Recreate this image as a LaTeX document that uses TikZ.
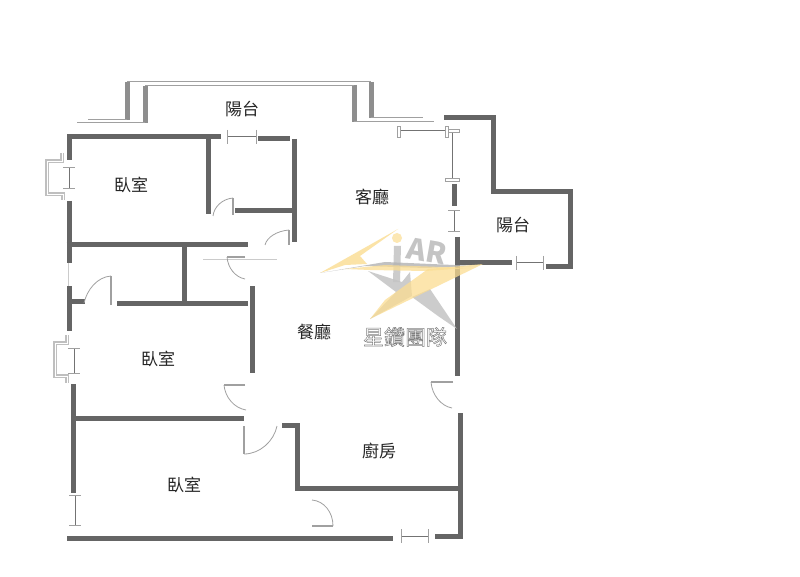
\documentclass[tikz,border=0pt]{standalone}
\usepackage{fontspec}
\setmainfont{Noto Sans CJK TC}
\usetikzlibrary{positioning}
\definecolor{wallgrey}{HTML}{656565}
\definecolor{balcgrey}{HTML}{8E8E8E}
\definecolor{thingrey}{HTML}{A0A0A0}
\definecolor{logoyellow}{HTML}{FBDD92}
\definecolor{logogrey}{HTML}{C4C4C4}
\tikzset{
  wall/.style = {draw=wallgrey, line width=5pt},
  balcwall/.style = {draw=balcgrey, line width=5pt},
  thinline/.style = {draw=thingrey, line width=1pt},
  paleline/.style = {draw=thingrey!55, line width=0.7pt},
  door/.style = {draw=thingrey, line width=0.8pt},
  doorleaf/.style = {draw=thingrey, line width=1.6pt},
  winline/.style = {draw=black!55, line width=1pt},
  doubleline/.style = {draw=black!25, line width=1.9pt, double=white, double distance=0.6pt},
  room/.style = {text=black!85, font=\fontsize{17}{18}\selectfont, inner sep=0pt},
}
% window with end ticks
\newcommand{\winh}[3]{%
  \draw [winline] (#1,#3) -- (#2,#3);
  \draw [thinline] (#1,#3-7) -- (#1,#3+7);
  \draw [thinline] (#2,#3-7) -- (#2,#3+7);
}
\newcommand{\winv}[3]{%
  \draw [winline] (#3,#1) -- (#3,#2);
  \draw [thinline] (#3-6,#1) -- (#3+6,#1);
  \draw [thinline] (#3-6,#2) -- (#3+6,#2);
}
\begin{document}
\begin{tikzpicture}[x=1pt, y=-1pt]
  \useasboundingbox [fill=white] (0,0) rectangle (800,577);
  % balcony top
  \draw [balcwall] (127,82) -- (127,120);
  \draw [balcwall] (145,86) -- (145,123);
  \draw [balcwall] (354,85) -- (354,122);
  \draw [balcwall] (371,82) -- (371,118);
  \draw [thinline] (88,120) -- (127,120);
  \draw [thinline] (77,123) -- (145,123);
  \draw [thinline] (127,82) -- (371,82);
  \draw [thinline] (145,86) -- (354,86);
  \draw [thinline] (371,118) -- (423,118);
  \draw [thinline] (354,122) -- (434,122);
  % bedroom one and closet
  \draw [wall] (69,160) -- (69,136.5) -- (221,136.5);
  \draw [wall] (69,201) -- (69,263);
  \draw [wall] (208,136.5) -- (208,214);
  \draw [wall] (235,211) -- (294,211);
  \draw [wall] (258,139) -- (290,139);
  \draw [wall] (294,139) -- (294,242);
  \draw [wall] (66.5,245) -- (248,245);
  \draw [wall] (184.5,245) -- (184.5,303);
  \draw [wall] (117,303) -- (248,303);
  \draw [wall] (252,286) -- (252,373);
  % bedroom two
  \draw [wall] (69,286) -- (69,331);
  \draw [wall] (69,301) -- (85,301);
  \draw [wall] (73,384) -- (73,493);
  \draw [wall] (73,418) -- (244,418);
  % bedroom three and kitchen
  \draw [wall] (67,538) -- (393,538);
  \draw [wall] (282,425) -- (297,425) -- (297,488) -- (458,488);
  \draw [wall] (460,413) -- (460,538);
  \draw [wall] (435,536) -- (462.5,536);
  % living room and right balcony
  \draw [wall] (444,117.5) -- (493,117.5) -- (493,192) -- (570,192) -- (570,267) -- (546,267);
  \draw [wall] (454,184) -- (454,206);
  \draw [wall] (457,237) -- (457,376);
  \draw [wall] (457,263) -- (512,263);
  % windows
  \winh{227}{256}{137}
  \winh{516}{543}{263}
  \winh{401}{428}{536}
  \winv{168}{189}{69}
  \winv{211}{232}{454}
  \winv{495}{525}{75}
  \winv{348}{373}{74}
  \draw [paleline] (68,263) -- (68,286);
  \draw [paleline] (203,259) -- (277,259);
  % sliding door
  \draw [winline] (399,131) -- (447,131);
  \draw [winline] (452,131) -- (452,180);
  \draw [door, fill=white] (397.5,126) rectangle (400.5,137);
  \draw [door, fill=white] (445,126) rectangle (448,137);
  \draw [door, fill=white] (448,129.5) rectangle (459,132.5);
  \draw [door, fill=white] (445.5,178) rectangle (459,181.5);
  % bay windows
  \draw [doubleline] (62,153) -- (62,161) -- (47,161) -- (47,194) -- (63,194) -- (63,200);
  \draw [doubleline] (67,335) -- (67,343) -- (55,343) -- (55,376) -- (67,376) -- (67,383);
  % doors
  \draw [door] (233,198) .. controls (222,199) and (214,207) .. (213,216);
  \draw [doorleaf] (233,215) -- (233,198);
  \draw [door] (289,230) .. controls (277,231) and (267,237) .. (265,245);
  \draw [doorleaf] (289,245) -- (289,230);
  \draw [door] (111,276) .. controls (97,277) and (87,290) .. (84,303);
  \draw [doorleaf] (111,305) -- (111,276);
  \draw [door] (227,257) .. controls (228,268) and (235,277) .. (245,279);
  \draw [doorleaf] (245,257) -- (227,257);
  \draw [door] (224,385) .. controls (225,397) and (234,408) .. (246,410);
  \draw [doorleaf] (245,385) -- (224,385);
  \draw [door] (244,454) .. controls (260,454) and (274,441) .. (277,426);
  \draw [doorleaf] (244,426) -- (244,454);
  \draw [door] (431,382) .. controls (432,395) and (441,406) .. (452,408);
  \draw [doorleaf] (453,382) -- (431,382);
  \draw [door] (333,526) .. controls (333,512) and (324,501) .. (312,500);
  \draw [doorleaf] (312,526) -- (333,526);
  % watermark
  \node (far) [text=logogrey, rotate=-10, font=\fontsize{29}{30}\selectfont\bfseries\itshape, inner sep=0pt] at (427,251) {AR};
  \fill [logogrey, fill opacity=0.85] (394,246) -- (401,246) -- (400,282) -- (393,282) -- cycle;
  \fill [logogrey, fill opacity=0.85] (368,271) -- (402,282) -- (410,272) -- (412,296) -- (370,319) -- (396,292) -- cycle;
  \fill [logogrey, fill opacity=0.85] (412,297) -- (430,289) -- (457,329) -- (438,316) -- cycle;
  \fill [logoyellow, fill opacity=0.7] (397,238) circle (5);
  \fill [logoyellow, fill opacity=0.8] (398,229) -- (320,273) -- (345,265) -- (367,264) -- (360,256) -- cycle;
  \fill [black!30, fill opacity=0.8] (320,273) -- (385,262) -- (477,266) -- (425,268) -- (365,266) -- cycle;
  \fill [logoyellow, fill opacity=0.75] (345,269) -- (385,265) -- (470,268) -- (425,271) -- (370,270) -- cycle;
  \fill [logoyellow, fill opacity=0.75] (483,264) -- (370,319) -- (385,300) -- (428,269) -- cycle;
  \node (logotext) [text=black!50, font=\fontsize{21}{22}\selectfont, inner sep=0pt] at (405,337) {\special{pdf:code 1 Tr 0.5 w}星鑽團隊\special{pdf:code 0 Tr}};
  % rooms
  \node (balcN) [room] at (242,109) {陽台};
  \node (balcE) [room] at (513,225) {陽台};
  \node (bedA) [room] at (131,185) {臥室};
  \node (living) [room] at (372,197) {客廳};
  \node (bedB) [room] at (158,359) {臥室};
  \node (dining) [room] at (314,332) {餐廳};
  \node (kitchen) [room] at (379,451) {廚房};
  \node (bedC) [room] at (184,485) {臥室};
\end{tikzpicture}
\end{document}
